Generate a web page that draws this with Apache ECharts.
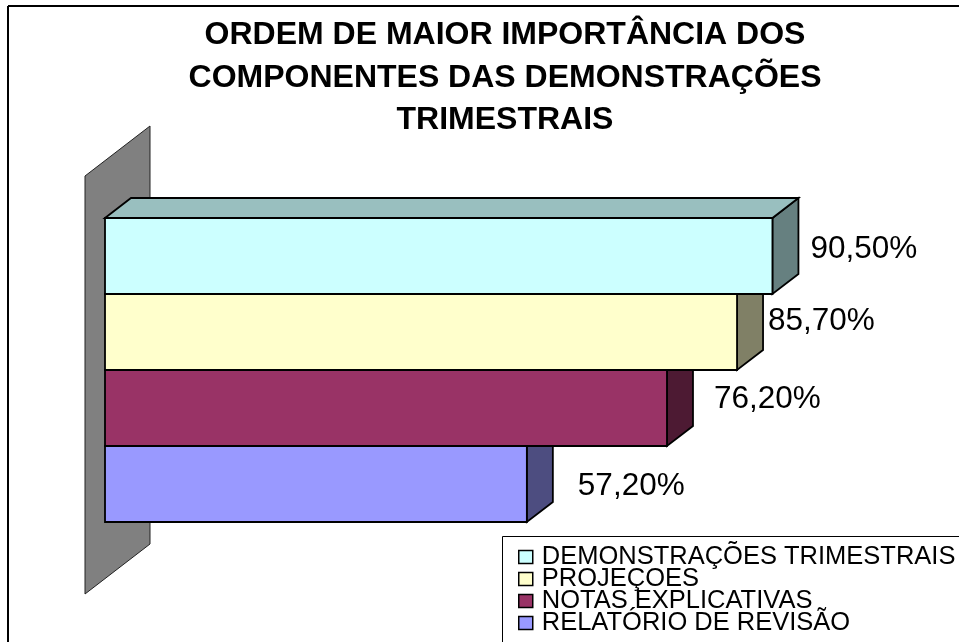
<!DOCTYPE html>
<html>
<head>
<meta charset="utf-8">
<style>html,body{margin:0;padding:0;background:#fff}#chart{width:959px;height:642px}</style>
<script src="https://cdn.jsdelivr.net/npm/echarts@6/dist/echarts.min.js"></script>
</head>
<body>
<div id="chart"></div>
<script>
var categories = ['DEMONSTRAÇÕES TRIMESTRAIS', 'PROJEÇOES', 'NOTAS EXPLICATIVAS', 'RELATÓRIO DE REVISÃO'];
var values = [90.5, 85.7, 76.2, 57.2];
var valueLabels = ['90,50%', '85,70%', '76,20%', '57,20%'];
var frontColors = ['#CCFFFF', '#FFFFCC', '#993366', '#9999FF'];
var topColors = ['#99BFBF', '#BFBF99', '#73264D', '#7373BF'];
var sideColors = ['#668080', '#808066', '#4D1A33', '#4D4D80'];
var labelOffsets = [[12, -7], [5, -11], [21, -9], [25, 2]];
var titleText = 'ORDEM DE MAIOR IMPORTÂNCIA DOS\nCOMPONENTES DAS DEMONSTRAÇÕES\nTRIMESTRAIS';
var DX = 26, DY = -20;
var FONT = '"Liberation Sans", Arial, sans-serif';

function poly(points, fill, z2) {
  return {type: 'polygon', z2: z2 || 0, shape: {points: points},
    style: {fill: fill, stroke: '#000', lineWidth: 1.8, lineJoin: 'miter'}};
}

function barItem(idx) {
  return function (params, api) {
    var end = api.coord([api.value(0), api.value(1)]);
    var start = api.coord([0, api.value(1)]);
    var h = api.size([0, 1])[1];
    var t = end[1] - h / 2, b = end[1] + h / 2, l = start[0], r = end[0];
    var off = labelOffsets[idx];
    var children = [];
    children.push(poly([[r, t], [r + DX, t + DY], [r + DX, b + DY], [r, b]], sideColors[idx]));
    if (idx === 0) {
      children.push(poly([[l, t], [l + DX, t + DY], [r + DX, t + DY], [r, t]], topColors[idx]));
    }
    children.push(poly([[l, t], [r, t], [r, b], [l, b]], frontColors[idx], 1));
    children.push({type: 'text', z2: 5, x: r + DX + off[0], y: end[1] + off[1],
      style: {text: valueLabels[idx], fill: '#000', font: '31.5px ' + FONT,
        textAlign: 'left', textVerticalAlign: 'middle'}});
    return {type: 'group', children: children};
  };
}

function wallItem(params, api) {
  var top = api.coord([0, 0]), bot = api.coord([0, categories.length - 1]);
  var h = api.size([0, 1])[1];
  var x = top[0], t = top[1] - h / 2, b = bot[1] + h / 2;
  return {type: 'polygon', shape: {points: [
    [x - 20, t - 42], [x + 45, t - 92], [x + 45, b + 22], [x - 20, b + 72]
  ]}, style: {fill: '#808080', stroke: '#222', lineWidth: 1}};
}

var series = [{type: 'custom', name: 'wall', silent: true, z: 1, coordinateSystem: 'cartesian2d',
  renderItem: wallItem, data: [[0, 0]], encode: {x: 0, y: 1}, clip: false}];
categories.forEach(function (c, i) {
  series.push({type: 'custom', name: c, silent: true, z: 10 - i, coordinateSystem: 'cartesian2d',
    renderItem: barItem(i), data: [[values[i], i]], encode: {x: 0, y: 1}, clip: false,
    itemStyle: {color: frontColors[i]}});
});

var chart = echarts.init(document.getElementById('chart'), null, {renderer: 'canvas'});
chart.setOption({
  animation: false,
  backgroundColor: '#fff',
  title: {text: titleText, left: 500, top: 9, textAlign: 'center',
    textStyle: {fontFamily: FONT, fontSize: 32, fontWeight: 'bold', color: '#000', lineHeight: 42.5}},
  grid: {left: 105, top: 218, width: 737.5, height: 304, containLabel: false},
  xAxis: {type: 'value', min: 0, max: 100, show: false},
  yAxis: {type: 'category', inverse: true, data: categories, show: false},
  legend: {
    orient: 'vertical', left: 518, top: 544, width: 441, height: 300, padding: 0, itemGap: -4, itemWidth: 14, itemHeight: 13,
    selectedMode: false, align: 'left',
    textStyle: {fontFamily: FONT, fontSize: 25.5, color: '#000', lineHeight: 22, padding: [0, 0, 0, 4]},
    data: categories.map(function (c, i) {
      return {name: c, icon: 'rect', itemStyle: {color: frontColors[i], borderColor: '#000', borderWidth: 1.5}};
    })
  },
  graphic: [
    {type: 'line', silent: true, shape: {x1: 8, y1: 6, x2: 959, y2: 6}, style: {stroke: '#000', lineWidth: 2}},
    {type: 'line', silent: true, shape: {x1: 8, y1: 6, x2: 8, y2: 642}, style: {stroke: '#000', lineWidth: 2}},
    {type: 'line', silent: true, shape: {x1: 502.5, y1: 536.5, x2: 959, y2: 536.5}, style: {stroke: '#000', lineWidth: 1}},
    {type: 'line', silent: true, shape: {x1: 502.5, y1: 536.5, x2: 502.5, y2: 642}, style: {stroke: '#000', lineWidth: 1}}
  ],
  series: series
});
</script>
</body>
</html>
